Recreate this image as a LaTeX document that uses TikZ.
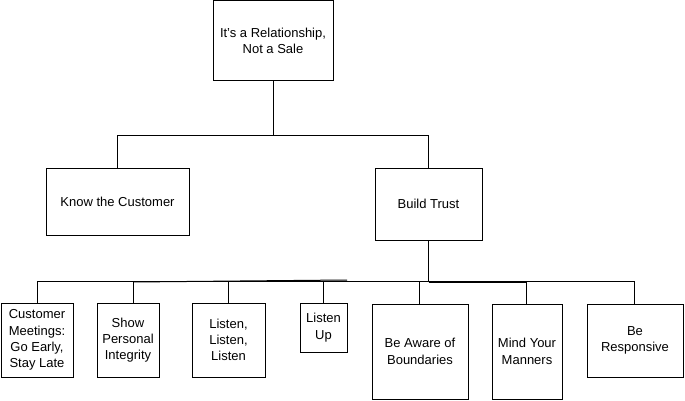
\documentclass[tikz,border=0pt]{standalone}
\usepackage{fontspec}
\setmainfont{Liberation Sans}
\begin{document}
\begin{tikzpicture}[x=1pt,y=-1pt,line width=1pt,
  box/.style={draw,inner sep=0pt,align=center,font=\fontsize{13}{16.3}\selectfont},
  conn/.style={draw,line width=1pt}]
\useasboundingbox (0,0) rectangle (685,401);
\node[box,minimum width=120,minimum height=80] (root) at (273,41) {It{\char"0027}s a Relationship,\\Not a Sale};
\node[box,minimum width=143,minimum height=67] (know) at (117.5,201.5) {Know the Customer};
\node[box,minimum width=107,minimum height=72] (trust) at (428.5,204) {Build Trust};
\node[box,minimum width=72,minimum height=74] (b1) at (37,340) {Customer\\Meetings:\\Go Early,\\Stay Late};
\node[box,minimum width=62,minimum height=74] (b2) at (128,340) {Show\\Personal\\Integrity};
\node[box,minimum width=73,minimum height=74] (b3) at (228.5,340) {Listen,\\Listen,\\Listen};
\node[box,minimum width=47,minimum height=49] (b4) at (323.5,327.5) {Listen\\Up};
\node[box,minimum width=96,minimum height=95] (b5) at (420,351.5) {Be Aware of\\Boundaries};
\node[box,minimum width=70,minimum height=95] (b6) at (527,351.5) {Mind Your\\Manners};
\node[box,minimum width=96,minimum height=73] (b7) at (635,340.5) {Be\\Responsive};
% level 1 connectors
\coordinate (top) at (273,136);
\draw[conn] (root.south) -- (top);
\draw[conn] (top) -| (know.north);
\draw[conn] (top) -| (trust.north);
% level 2 bus
\coordinate (bus) at (428.5,281);
\draw[conn] (trust.south) -- (bus);
\coordinate (c1) at (37,281);
\coordinate (c2) at (133,281);
\coordinate (c3) at (228,281);
\coordinate (c4) at (323,281);
\coordinate (c5) at (419,281);
\coordinate (c6) at (526,281);
\coordinate (c7) at (634,281);
\draw[conn] (c1) -- (c7);
\draw[conn] ([yshift=-1pt]c2) -- (347,280);
\draw[conn] ([yshift=-1pt]bus) -- ([yshift=-1pt]c6);
\draw[conn] (c1) -- (c1 |- b1.north);
\draw[conn] (c2) -- (c2 |- b2.north);
\draw[conn] (c3) -- (c3 |- b3.north);
\draw[conn] (c4) -- (c4 |- b4.north);
\draw[conn] (c5) -- (c5 |- b5.north);
\draw[conn] (c6) -- (c6 |- b6.north);
\draw[conn] (c7) -- (c7 |- b7.north);
\end{tikzpicture}
\end{document}
